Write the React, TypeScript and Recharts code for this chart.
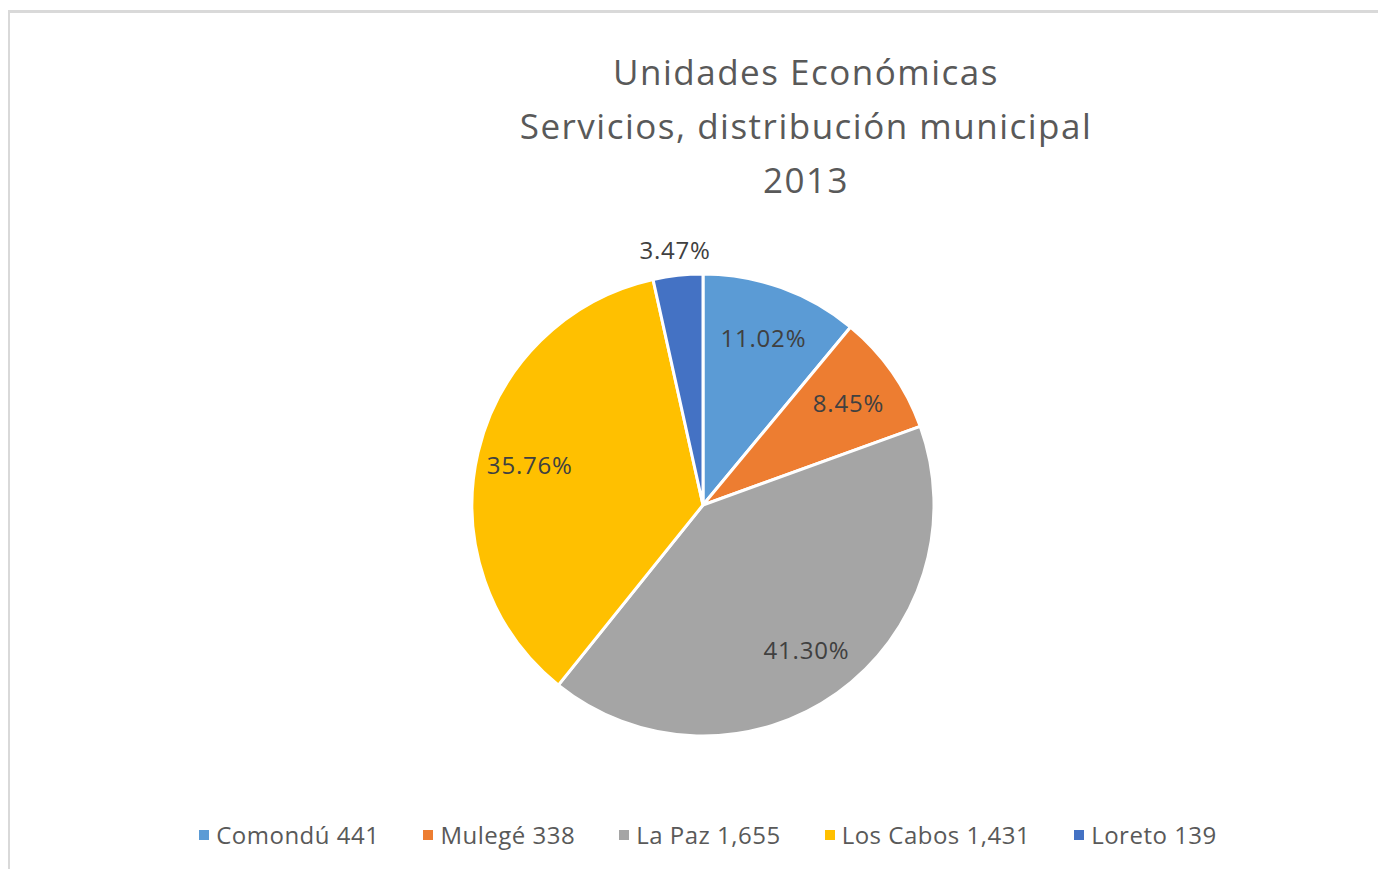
import { PieChart, Pie, Cell, Legend } from "recharts";

const municipios = ["Comondú", "Mulegé", "La Paz", "Los Cabos", "Loreto"];
const unidades = [441, 338, 1655, 1431, 139];
const porcentajes = [11.02, 8.45, 41.3, 35.76, 3.47];
const colores = ["#5b9bd5", "#ed7d31", "#a5a5a5", "#ffc000", "#4472c4"];
const tituloLineas = ["Unidades Económicas", "Servicios, distribución municipal", "2013"];

const FONT = "'Open Sans', sans-serif";

const data = municipios.map((m, i) => ({
  name: m,
  value: porcentajes[i],
  unidades: unidades[i],
  color: colores[i],
}));

const RAD = Math.PI / 180;

function renderLabel(props: any) {
  const { cx, cy, midAngle, outerRadius, value } = props;
  const outside = value < 5;
  const r = outside ? outerRadius + 26 : outerRadius * 0.77;
  const x = cx + r * Math.cos(-midAngle * RAD);
  const y = cy + r * Math.sin(-midAngle * RAD);
  return (
    <text
      x={x}
      y={y}
      fill="#404040"
      fontSize={24}
      letterSpacing={0.8}
      fontFamily={FONT}
      textAnchor="middle"
      dominantBaseline="central"
    >
      {value.toFixed(2)}%
    </text>
  );
}

function renderLegend() {
  return (
    <div
      style={{
        display: "flex",
        justifyContent: "center",
        gap: 44,
        fontFamily: FONT,
        fontSize: 24,
        letterSpacing: 0.5,
        color: "#595959",
      }}
    >
      {data.map((d) => (
        <div key={d.name} style={{ display: "flex", alignItems: "center" }}>
          <span
            style={{
              width: 10,
              height: 10,
              background: d.color,
              display: "inline-block",
              marginRight: 7,
            }}
          />
          <span>
            {d.name} {d.unidades.toLocaleString("en-US")}
          </span>
        </div>
      ))}
    </div>
  );
}

export default function App() {
  return (
    <div
      style={{
        position: "relative",
        width: 1386,
        height: 877,
        margin: -8,
        background: "#fff",
        overflow: "hidden",
      }}
    >
      <div
        style={{
          position: "absolute",
          left: 7,
          top: 10,
          width: 1400,
          height: 900,
          borderTop: "3px solid #d9d9d9",
          borderLeft: "3px solid #d9d9d9",
        }}
      />
      <div
        style={{
          position: "absolute",
          top: 45,
          left: 406,
          width: 800,
          textAlign: "center",
          fontFamily: FONT,
          fontSize: 35,
          letterSpacing: 1.5,
          lineHeight: "54px",
          color: "#595959",
        }}
      >
        {tituloLineas.map((t) => (
          <div key={t}>{t}</div>
        ))}
      </div>
      <div style={{ position: "absolute", left: 0, top: 0 }}>
        <PieChart width={1386} height={877} margin={{ top: 0, right: 0, bottom: 0, left: 0 }}>
          <Pie
            data={data}
            dataKey="value"
            cx={703}
            cy={505}
            outerRadius={231}
            startAngle={90}
            endAngle={-270}
            stroke="#fff"
            strokeWidth={3}
            label={renderLabel}
            labelLine={false}
            isAnimationActive={false}
          >
            {data.map((d) => (
              <Cell key={d.name} fill={d.color} />
            ))}
          </Pie>
          <Legend
            content={renderLegend}
            wrapperStyle={{ position: "absolute", top: 818, left: 0, width: 1416 }}
          />
        </PieChart>
      </div>
    </div>
  );
}
